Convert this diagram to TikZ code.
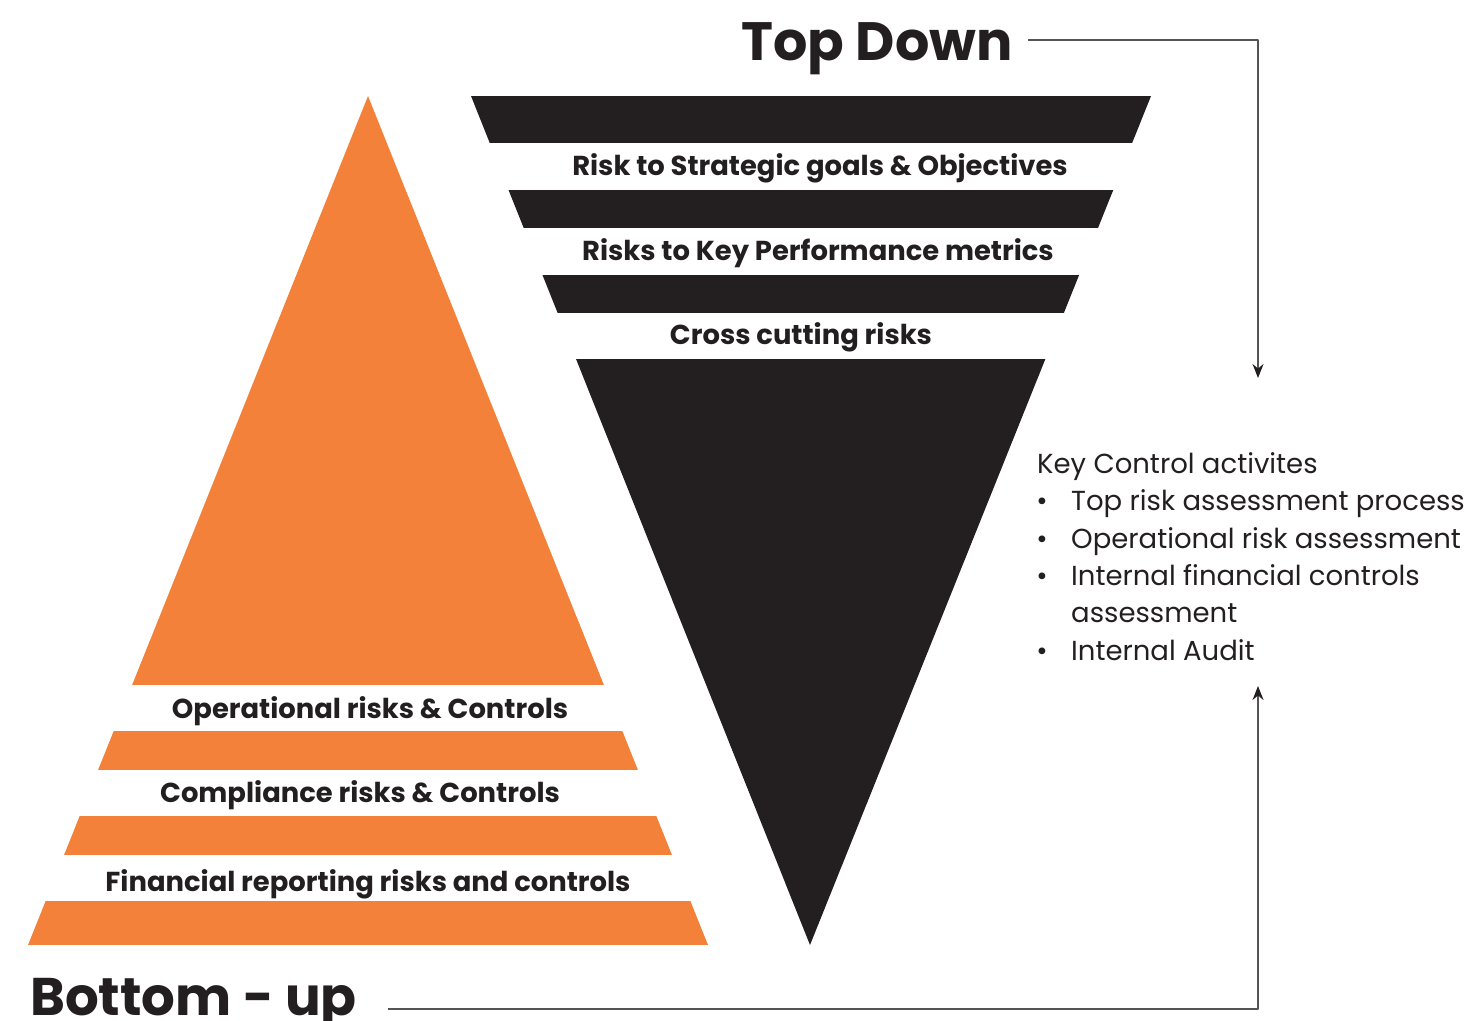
\documentclass[tikz,border=0pt]{standalone}
\usepackage{fontspec}
\setmainfont{Poppins}
\usetikzlibrary{arrows.meta}
\definecolor{riskorange}{HTML}{F3813A}
\definecolor{riskblack}{HTML}{231F20}
\definecolor{linegray}{HTML}{555555}
\tikzset{
  bandlabel/.style={anchor=base, font=\fontsize{27.4}{31}\selectfont\bfseries, text=riskblack, inner sep=0pt},
  titlelabel/.style={anchor=base, font=\fontsize{54}{60}\selectfont\bfseries, text=riskblack, inner sep=0pt},
  listlabel/.style={anchor=base west, font=\fontsize{27.5}{31}\selectfont, text=riskblack, inner sep=0pt},
  flowline/.style={draw=linegray, line width=1.6pt, -{Stealth[length=14pt, width=11pt, color=riskblack]}}
}
\begin{document}
\begin{tikzpicture}[x=1pt, y=-1pt, line join=round]
  \useasboundingbox (0,0) rectangle (1466,1020);
  % inverted pyramid
  \begin{scope}
    \clip (471,96) -- (1151,96) -- (810,945) -- cycle;
    \foreach \ya/\yb in {96/143,190/228,275/313,359/945}
      \fill[riskblack] (400,\ya) rectangle (1200,\yb);
  \end{scope}
  % pyramid
  \begin{scope}
    \clip (368,96) -- (708,945) -- (28,945) -- cycle;
    \foreach \ya/\yb in {96/685,731/770,816/855,901/945}
      \fill[riskorange] (0,\ya) rectangle (750,\yb);
  \end{scope}
  % band labels
  \node[bandlabel] (strategic) at (820,175) {Risk to Strategic goals \& Objectives};
  \node[bandlabel] (kpm) at (818,260) {Risks to Key Performance metrics};
  \node[bandlabel] (cross) at (801,344) {Cross cutting risks};
  \node[bandlabel] (operational) at (370,718) {Operational risks \& Controls};
  \node[bandlabel] (compliance) at (360,802) {Compliance risks \& Controls};
  \node[bandlabel] (financial) at (368,891) {Financial reporting risks and controls};
  % titles
  \node[titlelabel, anchor=base east] (topdown) at (1013,60) {Top Down};
  \node[titlelabel, anchor=base west, font=\fontsize{53}{60}\selectfont\bfseries] (bottomup) at (30,1015) {Bottom - up};
  % key control list
  \node[listlabel] (keyctrl) at (1037,473) {Key Control activites};
  \foreach \y/\t [count=\i] in {510/Top risk assessment process,548/Operational risk assessment,585/Internal financial controls,660/Internal Audit}
    \node[listlabel] (item\i) at (1071,\y) {\t};
  \node[listlabel] (item3b) at (1071,622) {assessment};
  \foreach \y in {510,548,585,660}
    \node[listlabel, anchor=base] at (1042,\y) {•};
  % connectors
  \coordinate (topcorner) at (1258,40);
  \coordinate (topend) at (1258,378);
  \coordinate (botcorner) at (1258,1009);
  \coordinate (botend) at (1258,686);
  \draw[flowline] (1028,40) -- (topcorner) -- (topend);
  \draw[flowline] (388,1009) -- (botcorner) -- (botend);
\end{tikzpicture}
\end{document}
